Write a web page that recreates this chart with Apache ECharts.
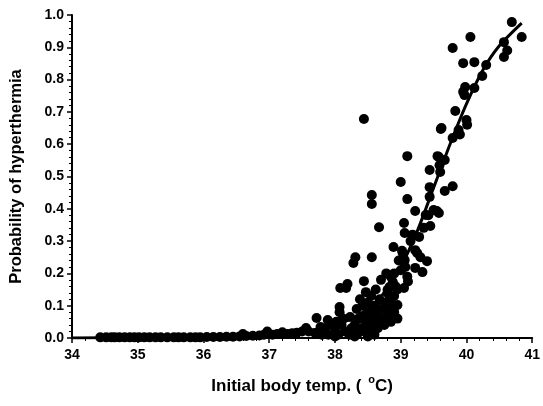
<!DOCTYPE html>
<html><head><meta charset="utf-8">
<script src="https://cdn.jsdelivr.net/npm/echarts@6/dist/echarts.min.js"></script>
<style>html,body{margin:0;padding:0;background:#fff}#c{width:543px;height:406px}</style>
</head><body><div id="c"></div>
<script>
const xTicks = [34, 35, 36, 37, 38, 39, 40, 41];
const yTicks = [0.0, 0.1, 0.2, 0.3, 0.4, 0.5, 0.6, 0.7, 0.8, 0.9, 1.0];

const obsTemp = [
34.43,34.52,34.6,34.65,34.72,34.8,34.88,34.95,35.02,35.1,35.18,35.27,35.35,35.45,35.55,35.62,35.7,35.8,35.88,35.95,
36.05,36.15,36.25,36.35,36.45,36.55,36.6,36.65,36.75,36.85,36.92,36.97,37.05,37.12,37.2,37.28,37.35,37.42,37.5,37.56,37.6,
37.7,37.72,37.78,37.8,37.85,37.89,37.9,37.95,38.0,38.0,38.02,38.05,38.07,38.07,38.08,38.1,38.12,38.15,38.17,38.19,38.22,38.23,38.25,38.28,38.31,
38.3,38.3,38.33,38.35,38.36,38.38,38.4,38.4,38.42,38.44,38.44,38.45,38.45,38.47,38.48,38.5,38.5,38.5,38.52,38.55,38.55,38.56,38.56,38.56,
38.58,38.6,38.6,38.6,38.62,38.62,38.65,38.65,38.67,38.68,38.7,38.7,38.7,38.72,38.75,38.75,38.77,38.78,38.78,38.8,38.8,38.8,38.82,38.83,38.83,38.83,
38.85,38.85,38.85,38.88,38.89,38.89,38.9,38.9,38.9,38.92,38.95,38.95,38.95,38.97,
39.0,39.0,39.02,39.03,39.05,39.05,39.06,39.06,39.07,39.1,39.1,39.1,39.11,39.15,39.18,39.22,39.22,39.22,39.25,39.28,39.3,39.33,39.35,39.38,39.4,39.42,
39.44,39.44,39.44,39.45,39.5,39.55,39.56,39.58,39.58,39.6,39.59,39.61,39.62,39.67,39.67,39.79,39.79,39.83,39.88,39.9,39.79,39.95,39.95,39.97,39.98,
40.0,40.01,40.06,40.12,40.12,40.24,40.3,40.57,40.62,40.57,40.69,40.84
];
const obsProb = [
0.002,0.002,0.002,0.002,0.002,0.002,0.002,0.002,0.002,0.002,0.002,0.002,0.002,0.002,0.002,0.002,0.002,0.002,0.002,0.002,
0.003,0.003,0.003,0.004,0.004,0.005,0.012,0.006,0.007,0.008,0.01,0.02,0.01,0.012,0.018,0.012,0.015,0.016,0.02,0.031,0.02,
0.015,0.062,0.034,0.01,0.03,0.056,0.01,0.04,0.03,0.005,0.05,0.01,0.096,0.08,0.155,0.04,0.06,0.02,0.155,0.167,0.01,0.065,0.03,0.232,0.25,
0.04,0.005,0.09,0.015,0.06,0.12,0.03,0.06,0.1,0.176,0.678,0.07,0.02,0.142,0.05,0.11,0.005,0.045,0.08,0.13,0.03,0.25,0.443,0.415,
0.06,0.1,0.04,0.01,0.15,0.07,0.08,0.03,0.343,0.12,0.18,0.05,0.09,0.06,0.1,0.04,0.062,0.2,0.11,0.14,0.07,0.149,0.09,0.158,0.062,0.13,
0.19,0.05,0.12,0.173,0.282,0.1,0.2,0.13,0.08,0.16,0.102,0.15,0.06,0.24,
0.483,0.21,0.27,0.263,0.356,0.155,0.325,0.241,0.22,0.563,0.43,0.19,0.175,0.3,0.32,0.393,0.272,0.217,0.263,0.313,0.25,0.204,0.341,0.381,0.238,0.38,
0.52,0.467,0.437,0.347,0.396,0.393,0.563,0.387,0.56,0.514,0.535,0.647,0.65,0.551,0.455,0.47,0.619,0.703,0.644,0.63,0.898,0.851,0.762,0.752,0.777,
0.675,0.66,0.932,0.854,0.774,0.811,0.845,0.916,0.89,0.87,0.978,0.932
];

const fitTemp = [34, 35, 36, 36.5, 37, 37.5, 38, 38.25, 38.5, 38.75, 39.0, 39.25, 39.5, 39.75, 40.0, 40.25, 40.5, 40.84];
const fitProb = [0.0003, 0.001, 0.003, 0.005, 0.01, 0.02, 0.04, 0.06, 0.09, 0.14, 0.22, 0.33, 0.465, 0.6, 0.725, 0.83, 0.905, 0.975];

const chart = echarts.init(document.getElementById('c'), null, {renderer: 'canvas'});
const F = 'Liberation Sans, Arial, sans-serif';
chart.setOption({
  animation: false,
  grid: {left: 69, right: 6, top: 15, bottom: 68, containLabel: false},
  xAxis: {
    type: 'value', min: xTicks[0], max: xTicks[xTicks.length - 1], interval: 1,
    name: '{a|Initial body temp. ( }{s|o}{a|C)}', nameLocation: 'middle', nameGap: 36,
    nameTextStyle: {rich: {
      a: {fontFamily: F, fontWeight: 'bold', fontSize: 17, color: '#000'},
      s: {fontFamily: F, fontWeight: 'bold', fontSize: 11, color: '#000', padding: [0, 0, 14, 2]}
    }},
    axisLine: {show: true, lineStyle: {color: '#000', width: 2}},
    axisTick: {show: true, inside: false, length: 5, lineStyle: {color: '#000', width: 1.5}},
    minorTick: {show: true, splitNumber: 5, length: 3, lineStyle: {color: '#000', width: 1}},
    splitLine: {show: false},
    axisLabel: {fontFamily: F, fontWeight: 'bold', fontSize: 14, color: '#000', margin: 10,
      formatter: v => xTicks.includes(v) ? String(v) : ''}
  },
  yAxis: {
    type: 'value', min: 0, max: 1, interval: 0.1,
    name: 'Probability of hyperthermia', nameLocation: 'middle', nameGap: 47, nameRotate: 90,
    nameTextStyle: {fontFamily: F, fontWeight: 'bold', fontSize: 16.5, color: '#000'},
    axisLine: {show: true, lineStyle: {color: '#000', width: 2}},
    axisTick: {show: true, inside: false, length: 5, lineStyle: {color: '#000', width: 1.5}},
    minorTick: {show: true, splitNumber: 5, length: 3, lineStyle: {color: '#000', width: 1}},
    splitLine: {show: false},
    axisLabel: {fontFamily: F, fontWeight: 'bold', fontSize: 14, color: '#000', margin: 8,
      formatter: v => v.toFixed(1)}
  },
  series: [
    {type: 'scatter', data: obsTemp.map((t, i) => [t, obsProb[i]]), symbol: 'circle', symbolSize: 10,
     itemStyle: {color: '#000', opacity: 1}, z: 2},
    {type: 'line', data: fitTemp.map((t, i) => [t, fitProb[i]]), smooth: 0.25, showSymbol: false,
     lineStyle: {color: '#000', width: 3}, z: 3}
  ]
});
</script></body></html>
